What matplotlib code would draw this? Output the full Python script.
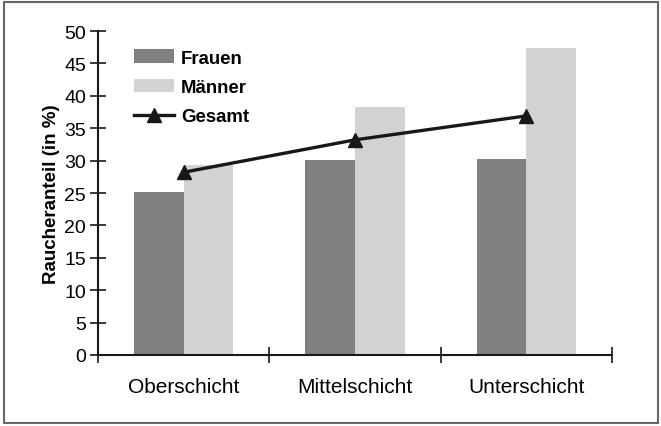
import matplotlib
matplotlib.use("Agg")
import matplotlib.pyplot as plt
import numpy as np
from matplotlib.patches import Rectangle

categories = ["Oberschicht", "Mittelschicht", "Unterschicht"]
frauen = [25.2, 30.1, 30.2]
maenner = [29.3, 38.2, 47.3]
gesamt = [28.2, 33.2, 36.9]
yticks = [0, 5, 10, 15, 20, 25, 30, 35, 40, 45, 50]

plt.rcParams['font.family'] = ['Liberation Sans', 'DejaVu Sans']

fig = plt.figure(figsize=(6.61, 4.27), dpi=100)
ax = fig.add_axes([98/661, 1-356/427, (612-98)/661, (356-32)/427])

x = np.arange(len(categories))
w = 0.29
b1 = ax.bar(x - w/2, frauen, width=w, color="#808082", label="Frauen", zorder=2)
b2 = ax.bar(x + w/2, maenner, width=w, color="#d1d2d4", label="Männer", zorder=2)
l1, = ax.plot(x, gesamt, color="#1a1716", lw=2.4, marker="^", markersize=10, label="Gesamt", zorder=3)

ax.set_xlim(-0.5, 2.5)
ax.set_ylim(0, 50)
ax.set_yticks(yticks)
ax.set_yticklabels([str(v) for v in yticks], fontsize=14)
ax.set_xticks([-0.5, 0.5, 1.5, 2.5])
ax.set_xticklabels([])
ax.set_xticks(x, minor=True)
ax.set_xticklabels(categories, minor=True, fontsize=15)
ax.tick_params(axis='x', which='minor', length=0, pad=16)
ax.tick_params(axis='x', which='major', direction='inout', length=12, width=1.2, color="#1a1716")
ax.tick_params(axis='y', direction='inout', length=11, width=1.2, color="#1a1716", pad=3)
for s in ["top", "right"]:
    ax.spines[s].set_visible(False)
for s in ["left", "bottom"]:
    ax.spines[s].set_linewidth(1.5)
    ax.spines[s].set_color("#1a1716")

ax.set_ylabel("Raucheranteil (in %)", fontsize=13.5, fontweight="bold", labelpad=3)

leg = ax.legend([b1, b2, l1], ["Frauen", "Männer", "Gesamt"],
                loc="upper left", bbox_to_anchor=(0.037, 0.995), frameon=False,
                prop={'weight': 'bold', 'size': 13.4}, handlelength=2.15,
                handleheight=0.75, labelspacing=0.65, handletextpad=0.4)

fig.patches.append(Rectangle((4/661, 3/427), 654/661, 421/427, transform=fig.transFigure,
                             fill=False, edgecolor="#666666", lw=1.5))

fig.savefig("out.png", dpi=100)
